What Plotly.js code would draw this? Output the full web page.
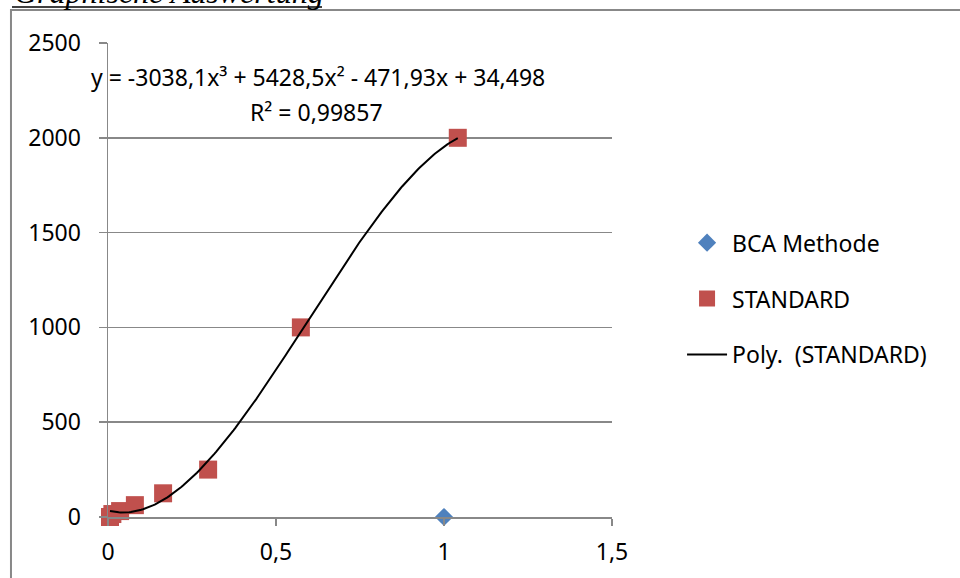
<!DOCTYPE html>
<html>
<head>
<meta charset="utf-8">
<script src="https://cdn.plot.ly/plotly-3.0.1.min.js"></script>
<style>html,body{margin:0;padding:0;background:#fff;}#chart{width:960px;height:578px;}</style>
</head>
<body>
<div id="chart"></div>
<script>
// Data
const bcaX = [1.0];
const bcaY = [0];
const stdX = [0.006, 0.013, 0.036, 0.080, 0.164, 0.298, 0.574, 1.041];
const stdY = [0, 15.6, 31.25, 62.5, 125, 250, 1000, 2000];
// Trendline coefficients shown on the chart (x^3, x^2, x, const)
const trendCoefs = [-3038.1, 5428.5, -471.93, 34.498];
const xTicks = [0, 0.5, 1, 1.5];
const yTicks = [0, 500, 1000, 1500, 2000, 2500];
const equationText = "y = -3038,1x³ + 5428,5x² - 471,93x + 34,498";
const r2Text = "R² = 0,99857";
const titleText = "Graphische Auswertung";

// Build the polynomial trendline over the STANDARD x-range
const xMin = Math.min(...stdX), xMax = Math.max(...stdX);
const trendX = [], trendY = [];
const nSteps = 200;
for (let i = 0; i <= nSteps; i++) {
  const x = xMin + (xMax - xMin) * i / nSteps;
  trendX.push(x);
  trendY.push(((trendCoefs[0] * x + trendCoefs[1]) * x + trendCoefs[2]) * x + trendCoefs[3]);
}

const FONT = "Noto Sans, Open Sans, sans-serif";
const GRID = "#888888";

const traces = [
  {x: bcaX, y: bcaY, type: "scatter", mode: "markers", name: "BCA Methode",
   legendgroup: "a", cliponaxis: false,
   marker: {symbol: "diamond", size: 14, color: "#4F81BD"}},
  {x: stdX, y: stdY, type: "scatter", mode: "markers", name: "STANDARD",
   legendgroup: "b", cliponaxis: false,
   marker: {symbol: "square", size: 18, color: "#C0504D", line: {width: 0}}},
  {x: trendX, y: trendY, type: "scatter", mode: "lines", name: "Poly.\u00a0 (STANDARD)",
   legendgroup: "c", cliponaxis: false,
   line: {color: "#000000", width: 2}}
];

const layout = {
  width: 960, height: 578,
  margin: {l: 108, r: 348, t: 43, b: 61, pad: 0},
  paper_bgcolor: "#ffffff", plot_bgcolor: "#ffffff",
  separators: ",.",
  font: {family: FONT, size: 23, color: "#000000"},
  showlegend: true,
  legend: {x: 1.139, xanchor: "left", y: 0.624, yanchor: "top",
           traceorder: "grouped", tracegroupgap: 23,
           font: {family: FONT, size: 23, color: "#000"},
           bgcolor: "rgba(0,0,0,0)", itemwidth: 40},
  xaxis: {range: [0, 1.5], tickmode: "array", tickvals: xTicks,
          showgrid: false, zeroline: false, showline: true,
          linecolor: GRID, linewidth: 1.5, ticks: "outside", ticklen: 7,
          tickcolor: GRID, tickwidth: 1.5, ticklabelstandoff: 7,
          tickfont: {family: FONT, size: 23, color: "#000"}},
  yaxis: {range: [0, 2500], tickmode: "array", tickvals: yTicks,
          showgrid: true, gridcolor: GRID, gridwidth: 1.5,
          zeroline: false, showline: true,
          linecolor: GRID, linewidth: 1.5, ticks: "outside", ticklen: 8,
          tickcolor: GRID, tickwidth: 1.5, ticklabelstandoff: 13,
          tickfont: {family: FONT, size: 23, color: "#000"}},
  annotations: [
    {xref: "paper", yref: "paper", x: 0.4167, y: 0.9283, xanchor: "center", yanchor: "middle",
     text: equationText, showarrow: false, font: {family: FONT, size: 23, color: "#000"}},
    {xref: "paper", yref: "paper", x: 0.4127, y: 0.8544, xanchor: "center", yanchor: "middle",
     text: r2Text, showarrow: false, font: {family: FONT, size: 23, color: "#000"}},
    {xref: "paper", yref: "paper", x: -0.1905, y: 1.0654, xanchor: "left", yanchor: "bottom",
     text: "<i>" + titleText + "</i>", showarrow: false,
     font: {family: "Liberation Serif, serif", size: 32, color: "#000"}}
  ],
  shapes: [
    {type: "rect", xref: "paper", yref: "paper",
     x0: -0.1925, x1: 1.75, y0: -0.2, y1: 1.0696,
     line: {color: GRID, width: 2}, fillcolor: "rgba(0,0,0,0)", layer: "below"},
    {type: "line", xref: "paper", yref: "paper",
     x0: -0.1905, x1: 0.4246, y0: 1.0759, y1: 1.0759,
     line: {color: "#000", width: 1.5}}
  ]
};

Plotly.newPlot("chart", traces, layout, {displayModeBar: false, staticPlot: true});
</script>
</body>
</html>
